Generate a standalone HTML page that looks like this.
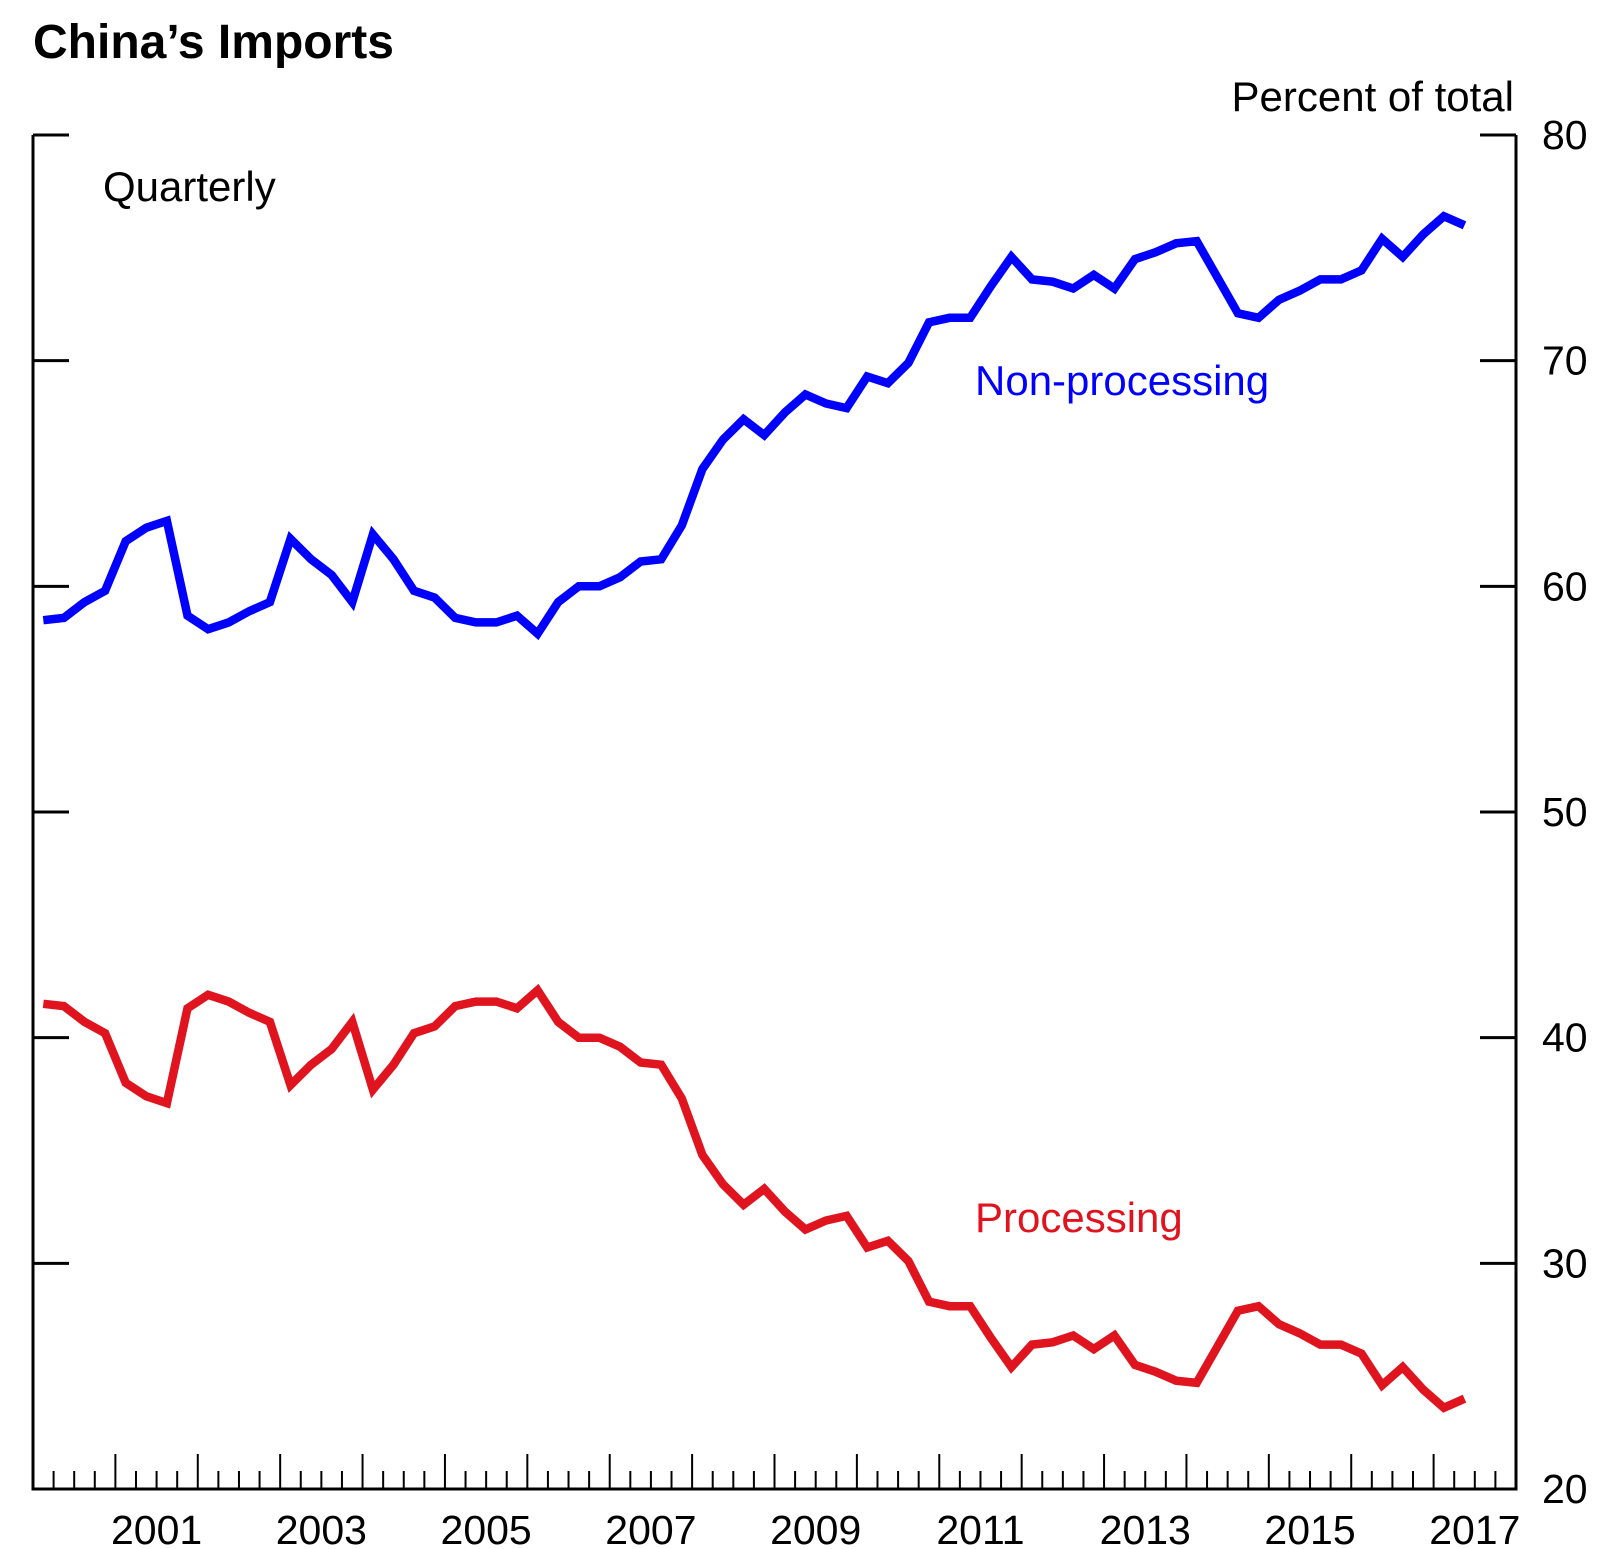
<!DOCTYPE html>
<html><head><meta charset="utf-8"><style>
body{margin:0;background:#fff;}
svg{display:block;font-family:"Liberation Sans",Arial,sans-serif;}
</style></head><body>
<svg id="chart" width="1624" height="1549" viewBox="0 0 1624 1549">
<text x="33" y="58" font-size="48" font-weight="bold">China’s Imports</text>
<text x="1514" y="111" font-size="42" text-anchor="end">Percent of total</text>
<text x="103" y="201" font-size="42">Quarterly</text>
<g id="axes"></g>
<g id="series"></g>
<text x="975" y="395" font-size="42" fill="#0000ff">Non-processing</text>
<text x="975" y="1232" font-size="42" fill="#e0141e">Processing</text>
</svg>
<script>
const startYear = 2000;
const nonProcessing = [58.5,58.6,59.3,59.8,62.0,62.6,62.9,58.7,58.1,58.4,58.9,59.3,62.1,61.2,60.5,59.3,62.3,61.2,59.8,59.5,58.6,58.4,58.4,58.7,57.9,59.3,60.0,60.0,60.4,61.1,61.2,62.7,65.2,66.5,67.4,66.7,67.7,68.5,68.1,67.9,69.3,69.0,69.9,71.7,71.9,71.9,73.3,74.6,73.6,73.5,73.2,73.8,73.2,74.5,74.8,75.2,75.3,73.7,72.1,71.9,72.7,73.1,73.6,73.6,74.0,75.4,74.6,75.6,76.4,76.0];
const processing = [41.5,41.4,40.7,40.2,38.0,37.4,37.1,41.3,41.9,41.6,41.1,40.7,37.9,38.8,39.5,40.7,37.7,38.8,40.2,40.5,41.4,41.6,41.6,41.3,42.1,40.7,40.0,40.0,39.6,38.9,38.8,37.3,34.8,33.5,32.6,33.3,32.3,31.5,31.9,32.1,30.7,31.0,30.1,28.3,28.1,28.1,26.7,25.4,26.4,26.5,26.8,26.2,26.8,25.5,25.2,24.8,24.7,26.3,27.9,28.1,27.3,26.9,26.4,26.4,26.0,24.6,25.4,24.4,23.6,24.0];
const yTicks = [20,30,40,50,60,70,80];
const xLabels = [2001,2003,2005,2007,2009,2011,2013,2015,2017];

const L=33,R=1516,T=135,B=1489,X0=2000,X1=2018,Y0=20,Y1=80;
const xs=v=>L+(v-X0)/(X1-X0)*(R-L);
const ys=v=>B-(v-Y0)/(Y1-Y0)*(B-T);
const NS='http://www.w3.org/2000/svg';
const axes=document.getElementById('axes'), series=document.getElementById('series');
function mk(tag,attrs,parent){const e=document.createElementNS(NS,tag);for(const k in attrs)e.setAttribute(k,attrs[k]);parent.appendChild(e);return e;}

let e=mk('path',{d:`M${L},${T}V${B}H${R}V${T}`,fill:'none',stroke:'#000','stroke-width':3},axes);


yTicks.forEach(v=>{
  const y=ys(v);
  let t=mk('path',{d:`M${L},${y}h36M${R},${y}h-36`,stroke:'#000','stroke-width':3},axes);
  
  
  let lb=mk('text',{x:1542,y:y+14,'font-size':41},axes);
  lb.textContent=v;
  
  
});
for(let q=1;q<(X1-X0)*4;q++){
  const x=xs(X0+q/4), major=q%4===0;
  let t=mk('line',{x1:x,x2:x,y1:B,y2:B-(major?35:18),stroke:'#000','stroke-width':2},axes);
  
  
}
xLabels.forEach(yr=>{
  let lb=mk('text',{x:xs(yr+0.5),y:1544,'font-size':41,'text-anchor':'middle'},axes);
  lb.textContent=yr;
  
  
});
function line(data,color,name){
  const d=data.map((v,i)=>(i?'L':'M')+xs(startYear+i/4+0.125).toFixed(1)+','+ys(v).toFixed(1)).join('');
  let p=mk('path',{d,fill:'none',stroke:color,'stroke-width':8.5,'stroke-linejoin':'miter'},series);
  
  
}
line(nonProcessing,'#0000ff','non-processing-line');
line(processing,'#e0141e','processing-line');
</script>
</body></html>
